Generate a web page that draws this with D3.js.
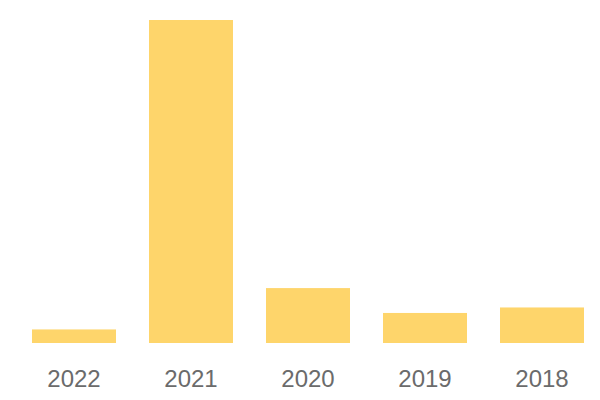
<!DOCTYPE html>
<head>
<script src="https://d3js.org/d3.v7.min.js"></script>
<style>
body { margin: 0; background: #fff; }
.xAxis text { font-family: "Liberation Sans", Arial, sans-serif; font-size: 24px; fill: #6b6b6b; }
</style>
</head>
<body>
<svg class="chart"></svg>
<script>
// data
var years = ["2022", "2021", "2020", "2019", "2018"];
var values = [4.2, 100, 17, 9.3, 11];

var width = 600, height = 400;
var baseY = 343, topY = 20;

var svg = d3.select(".chart")
	.attr("width", width)
	.attr("height", height);

var xChart = d3.scaleBand()
	.domain(years)
	.range([15.5, 600.5])
	.paddingInner(33 / 117)
	.paddingOuter(33 / 234);

var yChart = d3.scaleLinear()
	.domain([0, d3.max(values)])
	.range([baseY, topY]);

// bars
svg.selectAll(".bar")
	.data(years)
	.enter()
	.append("rect")
	.attr("class", "bar")
	.attr("x", function(d){ return xChart(d); })
	.attr("y", function(d, i){ return yChart(values[i]); })
	.attr("width", xChart.bandwidth())
	.attr("height", function(d, i){ return baseY - yChart(values[i]); })
	.attr("fill", "#fed56b");

// bottom axis, labels only
var xAxis = d3.axisBottom(xChart).tickSize(0).tickPadding(0);
var gx = svg.append("g")
	.attr("class", "xAxis")
	.attr("transform", "translate(0," + baseY + ")")
	.call(xAxis);
gx.select(".domain").remove();
gx.selectAll("text").attr("dy", null).attr("y", 44);
</script>
</body>
